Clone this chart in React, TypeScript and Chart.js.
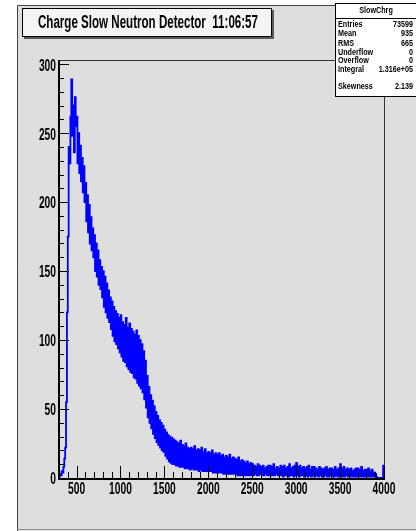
import { useEffect, useRef } from "react";
import { Chart, registerables } from "chart.js";

Chart.register(...registerables);

// Histogram binning (charge, 10 units per bin, 300 to 4000)
const binStart = 300;
const binWidth = 10;

// Counts per bin, 300–999: rise and peak
const countsPeak = [
  1, 3, 2, 5, 4, 8, 14, 22, 55, 120,
  175, 240, 228, 262, 289, 248, 270, 236, 276, 255,
  262, 228, 250, 221, 241, 215, 232, 207, 226, 200,
  214, 186, 205, 178, 198, 170, 189, 165, 181, 160,
  176, 150, 170, 146, 165, 140, 158, 137, 153, 131,
  150, 124, 146, 120, 141, 116, 136, 113, 131, 108,
  128, 103, 124, 99, 121, 97, 119, 94, 116, 91,
];

// Counts per bin, 1000–1499: shoulder and drop
const countsShoulder = [
  118, 88, 113, 85, 111, 84, 116, 81, 109, 79,
  112, 77, 108, 76, 106, 73, 104, 72, 107, 69,
  103, 67, 100, 65, 97, 62, 92, 57, 85, 51,
  74, 44, 66, 40, 60, 36, 56, 32, 52, 29,
  48, 26, 45, 24, 42, 22, 40, 20, 38, 19,
];

// Counts per bin, 1500–2499: tail
const countsTail = [
  35, 16, 33, 14, 31, 12, 30, 11, 29, 10,
  28, 10, 27, 9, 26, 9, 25, 8, 27, 8,
  24, 8, 23, 7, 25, 7, 22, 7, 21, 6,
  22, 7, 21, 6, 23, 6, 20, 6, 21, 5,
  20, 6, 22, 5, 19, 5, 21, 5, 18, 5,
  19, 5, 18, 5, 20, 4, 17, 4, 18, 4,
  17, 4, 18, 4, 16, 4, 17, 3, 15, 3,
  16, 3, 15, 3, 17, 3, 14, 3, 15, 3,
  14, 3, 13, 2, 15, 2, 12, 2, 13, 2,
  12, 2, 11, 2, 12, 2, 10, 2, 11, 2,
];

// Counts per bin, 2500–3999: flat remainder and last bin
const countsFlat = [
  10, 2, 9, 3, 8, 2, 10, 2, 9, 3,
  8, 2, 9, 2, 7, 3, 8, 2, 9, 2,
  9, 2, 8, 2, 10, 2, 7, 3, 8, 2,
  7, 2, 9, 2, 8, 1, 9, 2, 7, 2,
  8, 1, 10, 2, 7, 2, 8, 1, 9, 2,
  11, 2, 8, 1, 9, 2, 7, 2, 8, 1,
  7, 2, 8, 1, 9, 2, 6, 1, 8, 2,
  8, 1, 7, 2, 6, 1, 8, 2, 7, 1,
  6, 1, 7, 2, 8, 1, 6, 1, 7, 2,
  7, 1, 6, 1, 8, 2, 6, 1, 7, 1,
  10, 1, 7, 1, 8, 1, 6, 2, 7, 1,
  6, 1, 7, 1, 5, 1, 6, 1, 7, 1,
  7, 1, 6, 1, 8, 1, 5, 1, 6, 1,
  6, 1, 7, 1, 5, 1, 6, 1, 4, 1,
  3, 1, 0, 0, 0, 0, 0, 0, 0, 9,
];

// Axis ticks
const xMin = 300;
const xMax = 4000;
const yMin = 0;
const yMax = 303;
const xTickLabels = [500, 1000, 1500, 2000, 2500, 3000, 3500, 4000];
const xMinorStep = 100;
const yTickLabels = [0, 50, 100, 150, 200, 250, 300];
const yMinorStep = 10;

// Title and statistics box text
const titleText = "Charge Slow Neutron Detector  11:06:57";
const statsHeader = "SlowChrg";
const statsNames = ["Entries", "Mean", "RMS", "Underflow", "Overflow", "Integral", "Skewness"];
const statsValues = ["73599", "935", "665", "0", "0", "1.316e+05", "2.139"];

const allCounts = [...countsPeak, ...countsShoulder, ...countsTail, ...countsFlat];

function drawCondensed(
  ctx: CanvasRenderingContext2D,
  text: string,
  x: number,
  y: number,
  sx: number,
  align: "left" | "right" | "center"
) {
  const w = ctx.measureText(text).width * sx;
  let left = x;
  if (align === "right") left = x - w;
  else if (align === "center") left = x - w / 2;
  ctx.save();
  ctx.translate(left, y);
  ctx.scale(sx, 1);
  ctx.textAlign = "left";
  ctx.fillText(text, 0, 0);
  ctx.restore();
}

const rootFrame = {
  id: "rootFrame",
  beforeDraw(chart: any) {
    const { ctx, width, height } = chart;
    ctx.save();
    ctx.fillStyle = "#ffffff";
    ctx.fillRect(0, 0, width, height);
    ctx.fillStyle = "#dedede";
    ctx.fillRect(17, 5, width - 17, height - 5);
    ctx.lineWidth = 1;
    ctx.strokeStyle = "#444444";
    ctx.beginPath();
    ctx.moveTo(17.5, height);
    ctx.lineTo(17.5, 5.5);
    ctx.lineTo(width, 5.5);
    ctx.stroke();
    ctx.strokeStyle = "#8c8c8c";
    ctx.beginPath();
    ctx.moveTo(17, height - 1.5);
    ctx.lineTo(width, height - 1.5);
    ctx.stroke();
    ctx.restore();
  },
  afterDatasetsDraw(chart: any) {
    const { ctx, chartArea } = chart;
    const xs = chart.scales.x;
    const ys = chart.scales.y;
    const { left, right, top, bottom } = chartArea;
    ctx.save();

    // frame: thin top/right, heavier axes
    ctx.strokeStyle = "#333333";
    ctx.lineWidth = 1;
    ctx.beginPath();
    ctx.moveTo(left, top + 0.5);
    ctx.lineTo(right + 0.5, top + 0.5);
    ctx.lineTo(right + 0.5, bottom);
    ctx.stroke();
    ctx.strokeStyle = "#000000";
    ctx.lineWidth = 2;
    ctx.beginPath();
    ctx.moveTo(left, top);
    ctx.lineTo(left, bottom + 1);
    ctx.lineTo(right + 1, bottom + 1);
    ctx.stroke();

    // x ticks (drawn inward, above the axis)
    ctx.lineWidth = 1;
    ctx.strokeStyle = "#000000";
    ctx.beginPath();
    for (let v = xMin; v <= xMax; v += xMinorStep) {
      const px = Math.round(xs.getPixelForValue(v)) + 0.5;
      const major = xTickLabels.includes(v);
      ctx.moveTo(px, bottom);
      ctx.lineTo(px, bottom - (major ? 12 : 6));
    }
    // y ticks (drawn inward, right of the axis)
    for (let v = yMin; v <= 300; v += yMinorStep) {
      const py = Math.round(ys.getPixelForValue(v)) + 0.5;
      const major = yTickLabels.includes(v);
      ctx.moveTo(left, py);
      ctx.lineTo(left + (major ? 10 : 5), py);
    }
    ctx.stroke();

    // tick labels
    ctx.fillStyle = "#000000";
    ctx.font = "bold 16px 'Liberation Sans', Arial, sans-serif";
    ctx.textBaseline = "middle";
    for (const v of xTickLabels) {
      drawCondensed(ctx, String(v), xs.getPixelForValue(v), bottom + 12, 0.64, "center");
    }
    for (const v of yTickLabels) {
      drawCondensed(ctx, String(v), left - 3, ys.getPixelForValue(v) + 2, 0.64, "right");
    }

    // title box with shadow
    const tx = 22, ty = 8, tw = 250, th = 29;
    ctx.fillStyle = "#5a5a5a";
    ctx.fillRect(tx + 2, ty + 2, tw, th);
    ctx.fillStyle = "#f4f4f4";
    ctx.fillRect(tx, ty, tw, th);
    ctx.strokeStyle = "#000000";
    ctx.lineWidth = 1;
    ctx.strokeRect(tx + 0.5, ty + 0.5, tw - 1, th - 1);
    ctx.fillStyle = "#000000";
    ctx.font = "bold 18px 'Liberation Sans', Arial, sans-serif";
    const natural = ctx.measureText(titleText).width;
    drawCondensed(ctx, titleText, 38, ty + th / 2 + 1, 220 / natural, "left");

    // statistics box
    const sx0 = 335, sy0 = 3, sw = 90, sh = 93;
    ctx.fillStyle = "#ffffff";
    ctx.fillRect(sx0, sy0, sw, sh);
    ctx.strokeStyle = "#000000";
    ctx.strokeRect(sx0 + 0.5, sy0 + 0.5, sw, sh);
    ctx.beginPath();
    ctx.moveTo(sx0, 18.5);
    ctx.lineTo(sx0 + sw, 18.5);
    ctx.stroke();
    ctx.fillStyle = "#000000";
    ctx.font = "bold 9px 'Liberation Sans', Arial, sans-serif";
    drawCondensed(ctx, statsHeader, 376, 11, 0.8, "center");
    const rowsY = [25, 34, 44, 53, 61, 70, 87];
    statsNames.forEach((name, i) => {
      drawCondensed(ctx, name, 338, rowsY[i], 0.8, "left");
      drawCondensed(ctx, statsValues[i], 413, rowsY[i], 0.8, "right");
    });

    ctx.restore();
  },
};

export default function App() {
  const canvasRef = useRef<HTMLCanvasElement | null>(null);

  useEffect(() => {
    document.body.style.margin = "0";
    const canvas = canvasRef.current;
    if (!canvas) return;
    const points = allCounts.map((c, i) => ({ x: binStart + i * binWidth, y: c }));
    points.push({ x: xMax, y: allCounts[allCounts.length - 1] });

    const chart = new Chart(canvas, {
      type: "line",
      data: {
        datasets: [
          {
            data: points,
            borderColor: "#0000ff",
            borderWidth: 1.8,
            stepped: "before",
            pointRadius: 0,
            fill: false,
            tension: 0,
          },
        ],
      },
      options: {
        responsive: false,
        animation: false,
        devicePixelRatio: 1,
        layout: { padding: { left: 59, top: 60, right: 32, bottom: 53 } },
        scales: {
          x: { type: "linear", min: xMin, max: xMax, display: false },
          y: { type: "linear", min: yMin, max: yMax, display: false },
        },
        plugins: {
          legend: { display: false },
          tooltip: { enabled: false },
          title: { display: false },
        },
      },
      plugins: [rootFrame],
    });
    return () => chart.destroy();
  }, []);

  return (
    <canvas
      ref={canvasRef}
      width={416}
      height={531}
      style={{ display: "block", width: "416px", height: "531px" }}
    />
  );
}
